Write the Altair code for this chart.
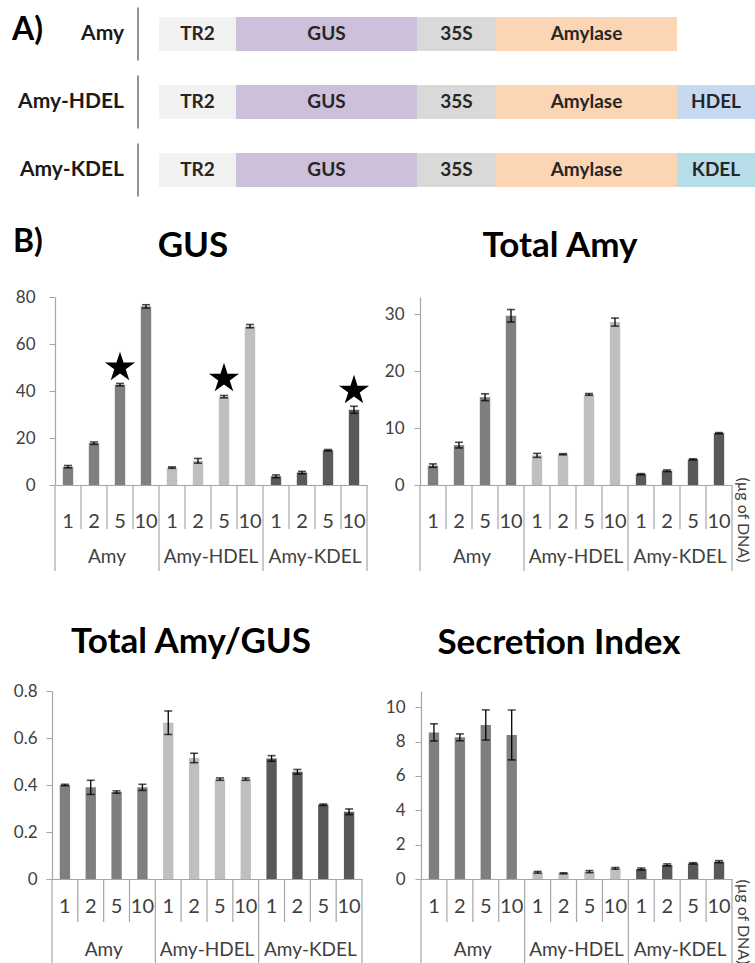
import altair as alt
import pandas as pd

# ---------------- data ----------------
constructs = ["Amy", "Amy-HDEL", "Amy-KDEL"]
doses = ["1", "2", "5", "10"]

# panel A: construct schematics (segment lengths in schematic units)
segment_names = ["TR2", "GUS", "35S", "Amylase"]
segment_lengths = [77, 181, 79, 181]
segment_colors = ["#f2f2f2", "#ccc0da", "#d9d9d9", "#fcd5b4"]
tag_names = ["", "HDEL", "KDEL"]
tag_colors = ["#ffffff", "#c6d9f1", "#b7dee8"]
tag_length = 78
schematic_start = 159

# panel B values (mean, error)
gus_mean = [7.8, 17.8, 42.7, 76.0, 7.4, 10.3, 37.6, 67.6, 3.7, 5.3, 14.8, 32.0]
gus_err = [0.5, 0.5, 0.5, 0.7, 0.3, 1.0, 0.5, 0.7, 0.6, 0.5, 0.3, 1.5]
amy_mean = [3.4, 7.0, 15.4, 29.7, 5.2, 5.4, 15.9, 28.6, 1.9, 2.5, 4.5, 9.1]
amy_err = [0.3, 0.5, 0.6, 1.1, 0.35, 0.1, 0.15, 0.7, 0.1, 0.15, 0.1, 0.1]
ratio_mean = [0.40, 0.39, 0.37, 0.39, 0.665, 0.515, 0.425, 0.425, 0.513, 0.456, 0.316, 0.286]
ratio_err = [0.003, 0.03, 0.005, 0.013, 0.05, 0.02, 0.005, 0.005, 0.012, 0.01, 0.003, 0.012]
si_mean = [8.54, 8.25, 8.97, 8.39, 0.39, 0.33, 0.43, 0.62, 0.58, 0.82, 0.91, 1.01]
si_err = [0.5, 0.2, 0.88, 1.45, 0.05, 0.03, 0.06, 0.05, 0.06, 0.06, 0.04, 0.06]

star_groups = ["Amy", "Amy-HDEL", "Amy-KDEL"]
star_doses = ["5", "5", "10"]
star_values = [50.0, 45.3, 40.2]

bar_colors = ["#7f7f7f", "#bfbfbf", "#595959"]

# ---------------- style ----------------
FONT = "Lato"
LABEL = "#404040"
GRID = "#a6a6a6"
PAGE_H = 963
STAR_PATH = ("M0,-1L0.2245,-0.309L0.951,-0.309L0.363,0.118L0.588,0.809L0,0.382"
             "L-0.588,0.809L-0.363,0.118L-0.951,-0.309L-0.2245,-0.309Z")

cats = [f"{c}|{d}" for c in constructs for d in doses]


def one(**kw):
    return pd.DataFrame({k: [v] for k, v in kw.items()})


def bar_panel(mean, err, ymax, yticks, x0, x1, ybot, ytop, lab_pad, num_dy, grp_dy,
              short_len, long_len, title, title_x, title_y,
              unit_pos=None, stars=False, corner=None):
    df = pd.DataFrame({
        "cat": cats,
        "group": [c for c in constructs for d in doses],
        "dose": doses * 3,
        "mean": mean,
        "err": err,
        "fill": [bar_colors[i // 4] for i in range(12)],
    })
    df["lo"] = df["mean"] - df["err"]
    df["hi"] = df["mean"] + df["err"]
    band = (x1 - x0) / len(cats)

    xscale = alt.Scale(domain=cats, range=[x0, x1], paddingInner=0, paddingOuter=0)
    yscale = alt.Scale(domain=[0, ymax], range=[ybot, ytop], nice=False)
    xaxis = alt.Axis(orient="bottom", offset=-(PAGE_H - ybot), labels=False, ticks=False,
                     title=None, grid=False, domainColor=GRID, domainWidth=1.2)
    yaxis = alt.Axis(orient="left", offset=-x0, values=yticks, format=".2~f", title=None,
                     grid=False, tickSize=6, tickColor=GRID, domainColor=GRID,
                     domainWidth=1.2, labelFont=FONT, labelFontSize=17,
                     labelColor=LABEL, labelPadding=lab_pad)

    def X(**kw):
        return alt.X("cat:N", scale=xscale, axis=None, **kw)

    def Y(field):
        return alt.Y(field, scale=yscale, axis=None)

    base = alt.Chart(df)
    bars = base.mark_bar(width=alt.RelativeBandSize(0.4)).encode(
        x=alt.X("cat:N", scale=xscale, axis=xaxis),
        y=alt.Y("mean:Q", scale=yscale, axis=yaxis),
        color=alt.Color("fill:N", scale=None),
    )
    err_rule = base.mark_rule(color="black", strokeWidth=1.3).encode(
        x=X(), y=Y("lo:Q"), y2="hi:Q")
    cap_lo = base.mark_tick(color="black", thickness=1.6, size=8).encode(x=X(), y=Y("lo:Q"))
    cap_hi = base.mark_tick(color="black", thickness=1.6, size=8).encode(x=X(), y=Y("hi:Q"))

    div_short = base.transform_filter("datum.dose != '1'").mark_rule(
        color=GRID, strokeWidth=1.2).encode(
        x=X(bandPosition=0), y=alt.value(ybot), y2=alt.value(ybot + short_len))
    div_long = base.transform_filter("datum.dose == '1'").mark_rule(
        color=GRID, strokeWidth=1.2).encode(
        x=X(bandPosition=0), y=alt.value(ybot), y2=alt.value(ybot + long_len))
    div_end = base.transform_filter(f"datum.cat == '{cats[-1]}'").mark_rule(
        color=GRID, strokeWidth=1.2).encode(
        x=X(bandPosition=1), y=alt.value(ybot), y2=alt.value(ybot + long_len))

    dose_txt = base.mark_text(font=FONT, fontSize=20, color=LABEL, baseline="middle").encode(
        x=X(), y=alt.value(ybot + num_dy), text="dose:N")
    # group label sits on the boundary between the 2nd and 3rd dose of its group
    grp_txt = base.transform_filter("datum.dose == '5'").mark_text(
        font=FONT, fontSize=19, color=LABEL, baseline="middle", dx=-band / 2).encode(
        x=X(), y=alt.value(ybot + grp_dy), text="group:N")

    title_txt = alt.Chart(one(t=title)).mark_text(
        font=FONT, fontSize=35, fontWeight="bold", color="black",
        baseline="alphabetic", align="center").encode(
        x=alt.value(title_x), y=alt.value(title_y), text="t:N")

    layers = [bars, err_rule, cap_lo, cap_hi, div_short, div_long, div_end,
              dose_txt, grp_txt, title_txt]

    if unit_pos is not None:
        layers.append(alt.Chart(one(t="(µg of DNA)")).mark_text(
            font=FONT, fontSize=16, color=LABEL, angle=90,
            align="center", baseline="middle").encode(
            x=alt.value(unit_pos[0]), y=alt.value(unit_pos[1]), text="t:N"))
    if stars:
        sdf = pd.DataFrame({
            "cat": [f"{g}|{d}" for g, d in zip(star_groups, star_doses)],
            "val": star_values,
        })
        layers.append(alt.Chart(sdf).mark_point(
            shape=STAR_PATH, filled=True, color="black", opacity=1, size=1000).encode(
            x=X(), y=Y("val:Q")))
    if corner is not None:
        layers.append(alt.Chart(one(t=corner[0])).mark_text(
            font=FONT, fontSize=32, fontWeight="bold", color="black",
            align="left", baseline="alphabetic").encode(
            x=alt.value(corner[1]), y=alt.value(corner[2]), text="t:N"))
    return layers


# ---------------- panel A ----------------
rows = []
for ci, c in enumerate(constructs):
    pos = schematic_start
    names = segment_names + ([tag_names[ci]] if tag_names[ci] else [])
    lengths = segment_lengths + ([tag_length] if tag_names[ci] else [])
    colors = segment_colors + ([tag_colors[ci]] if tag_names[ci] else [])
    for n, ln, col in zip(names, lengths, colors):
        rows.append({"construct": c, "seg": n, "start": pos, "end": pos + ln, "color": col})
        pos += ln
seg_df = pd.DataFrame(rows)
seg_df["mid"] = (seg_df["start"] + seg_df["end"]) / 2

xA = alt.Scale(domain=[0, 755], range=[0, 755], nice=False, zero=False)
yA = alt.Y("construct:N", axis=None,
           scale=alt.Scale(domain=constructs, range=[0, 204], paddingInner=0.5, paddingOuter=0.25))

segs = alt.Chart(seg_df).mark_rect().encode(
    x=alt.X("start:Q", scale=xA, axis=None), x2="end:Q", y=yA,
    color=alt.Color("color:N", scale=None))
seg_txt = alt.Chart(seg_df).mark_text(
    font=FONT, fontSize=19, fontWeight="bold", color="#262626").encode(
    x=alt.X("mid:Q", scale=xA, axis=None), y=yA, text="seg:N")
cons_df = pd.DataFrame({"construct": constructs})
sep = alt.Chart(cons_df).mark_tick(orient="vertical", size=53, thickness=1.6, color="#404040").encode(
    x=alt.value(138), y=yA)
cons_lab = alt.Chart(cons_df).mark_text(
    font=FONT, fontSize=21, fontWeight="bold", color="#1a1a1a", align="right").encode(
    x=alt.value(124), y=yA, text="construct:N")
a_lab = alt.Chart(one(t="A)")).mark_text(
    font=FONT, fontSize=32, fontWeight="bold", color="black", align="left", baseline="alphabetic").encode(
    x=alt.value(12), y=alt.value(40), text="t:N")
panelA = [segs, seg_txt, sep, cons_lab, a_lab]

# ---------------- panel B ----------------
gus = bar_panel(gus_mean, gus_err, 80, [0, 20, 40, 60, 80], 55, 367, 485, 297, 14, 37, 72, 44, 86,
                "GUS", 193, 257, stars=True, corner=("B)", 13, 252))
tamy = bar_panel(amy_mean, amy_err, 33, [0, 10, 20, 30], 420, 732, 485, 297, 10, 37, 72, 44, 86,
                 "Total Amy", 560, 257, unit_pos=(743, 520))
ratio = bar_panel(ratio_mean, ratio_err, 0.8, [0, 0.2, 0.4, 0.6, 0.8], 52, 362, 879, 691, 9, 28, 71, 43, 84,
                  "Total Amy/GUS", 191, 653)
si = bar_panel(si_mean, si_err, 10.95, [0, 2, 4, 6, 8, 10], 421, 732, 879, 691, 10, 28, 71, 43, 84,
               "Secretion Index", 559, 654, unit_pos=(743, 922))

chart = alt.layer(*(panelA + gus + tamy + ratio + si)).resolve_scale(
    x="independent", y="independent"
).properties(
    width=755, height=963, padding=0,
    autosize=alt.AutoSizeParams(type="none"),
).configure_view(stroke=None)

chart.save("out.html", embed_options={"renderer": "svg", "actions": False})
